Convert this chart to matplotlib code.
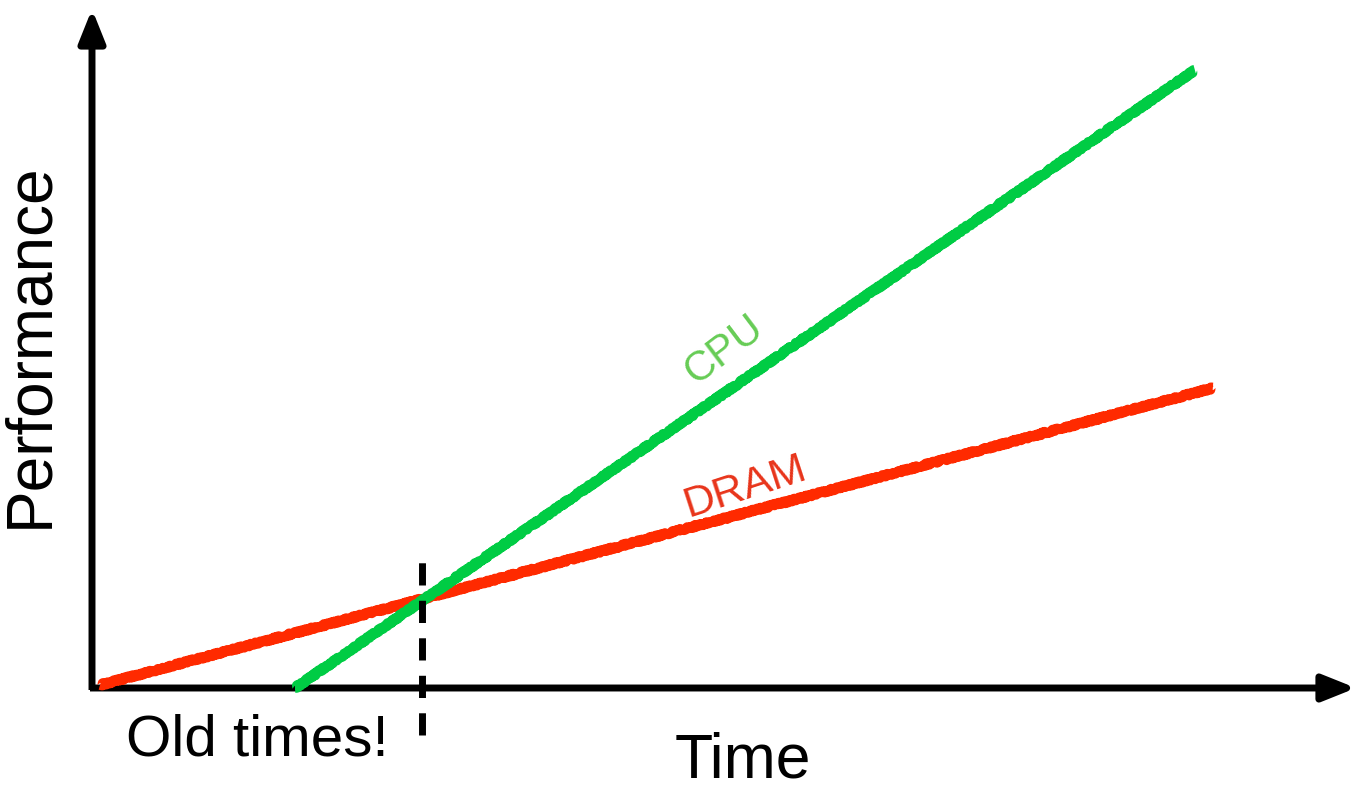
# Sketch chart: CPU vs DRAM performance over time
import matplotlib
matplotlib.use('Agg')
import matplotlib.pyplot as plt

plt.rcParams['font.family'] = ['Liberation Sans', 'DejaVu Sans']

# data (time, performance), origin at the axes corner
dram_t = [0.08, 11.21]
dram_p = [0.03, 3.00]
cpu_t = [2.03, 11.03]
cpu_p = [0.00, 6.18]
crossover_t = 3.30
crossover_span = [-0.47, 1.33]
x_end = 12.64
y_end = 6.79

fig = plt.figure(figsize=(13.57, 7.93), dpi=100)
ax = fig.add_axes([0, 0, 1, 1])
ax.set_xlim(-0.92, 12.65)
ax.set_ylim(-1.05, 6.88)
ax.axis('off')

# axes arrows
arrow = dict(arrowstyle='-|>,head_length=0.5,head_width=0.2', lw=5, color='black',
             mutation_scale=40, shrinkA=0, shrinkB=0, capstyle='butt')
ax.annotate('', xy=(x_end, 0), xytext=(-0.02, 0), arrowprops=arrow)
ax.annotate('', xy=(0, y_end), xytext=(0, -0.02), arrowprops=arrow)

# crayon-ish lines
red, = ax.plot(dram_t, dram_p, color='#ff2a00', lw=7, solid_capstyle='butt', zorder=3)
green, = ax.plot(cpu_t, cpu_p, color='#00cc44', lw=7, solid_capstyle='butt', zorder=3)
for ln in (red, green):
    ln.set_sketch_params(scale=1.2, length=4, randomness=3)

# crossover marker
ax.plot([crossover_t, crossover_t], crossover_span, color='black', lw=5,
        ls=(0, (3.2, 2.2)), zorder=4)

# labels
ax.text(1.65, -0.53, 'Old times!', fontsize=42, ha='center', va='center')
ax.text(6.51, -0.73, 'Time', fontsize=45, ha='center', va='center')
ax.text(-0.62, 3.43, 'Performance', fontsize=46, rotation=90, ha='center', va='center')
ax.text(6.32, 3.38, 'CPU', fontsize=30, color='#66cc55', rotation=37,
        ha='center', va='center', rotation_mode='anchor')
ax.text(6.53, 2.01, 'DRAM', fontsize=31, color='#e8341a', rotation=18,
        ha='center', va='center', rotation_mode='anchor')

fig.savefig('out.png', dpi=100)
